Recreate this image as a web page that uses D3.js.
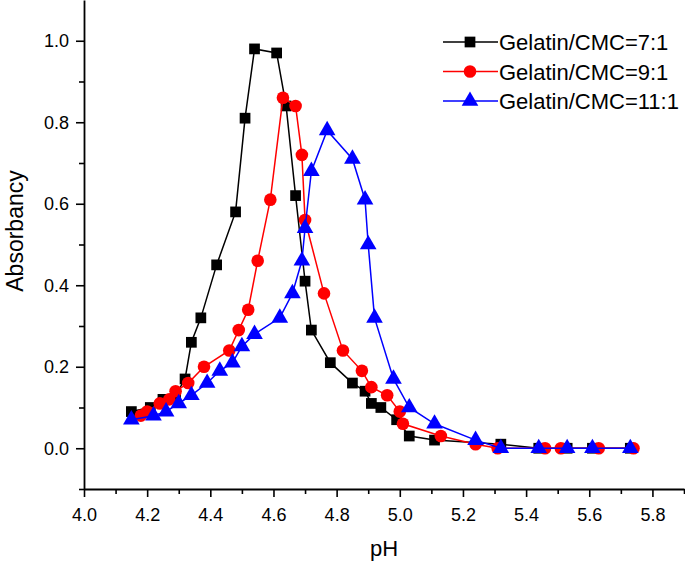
<!DOCTYPE html>
<html>
<head>
<meta charset="utf-8">
<script src="https://cdn.jsdelivr.net/npm/d3@7"></script>
<style>
  body { margin: 0; background: #fff; }
  svg text { font-family: "Liberation Sans", Arial, sans-serif; fill: #000; }
</style>
</head>
<body>
<svg id="svg" width="685" height="562"></svg>
<script>
// series 7:1 (black squares)
const ph71 = [4.15, 4.21, 4.25, 4.29, 4.32, 4.34, 4.37, 4.42, 4.48, 4.51, 4.54, 4.61, 4.64, 4.67, 4.70, 4.72, 4.78, 4.85, 4.89, 4.91, 4.94, 4.99, 5.03, 5.11, 5.32, 5.44, 5.53, 5.61, 5.73];
const abs71 = [0.09, 0.10, 0.12, 0.13, 0.17, 0.26, 0.32, 0.45, 0.58, 0.81, 0.98, 0.97, 0.84, 0.62, 0.41, 0.29, 0.21, 0.16, 0.14, 0.11, 0.10, 0.07, 0.03, 0.02, 0.01, 0, 0, 0, 0];
// series 9:1 (red circles)
const ph91 = [4.18, 4.20, 4.24, 4.27, 4.29, 4.33, 4.38, 4.46, 4.49, 4.52, 4.55, 4.59, 4.63, 4.67, 4.69, 4.70, 4.76, 4.82, 4.88, 4.91, 4.96, 5.00, 5.01, 5.13, 5.24, 5.31, 5.46, 5.51, 5.63, 5.74];
const abs91 = [0.08, 0.09, 0.11, 0.12, 0.14, 0.16, 0.20, 0.24, 0.29, 0.34, 0.46, 0.61, 0.86, 0.84, 0.72, 0.56, 0.38, 0.24, 0.19, 0.15, 0.13, 0.09, 0.06, 0.03, 0.01, 0, 0, 0, 0, 0];
// series 11:1 (blue triangles)
const ph111 = [4.15, 4.22, 4.26, 4.30, 4.34, 4.39, 4.43, 4.47, 4.50, 4.54, 4.62, 4.66, 4.69, 4.70, 4.72, 4.77, 4.85, 4.89, 4.90, 4.92, 4.98, 5.03, 5.11, 5.24, 5.32, 5.44, 5.53, 5.61, 5.73];
const abs111 = [0.07, 0.08, 0.09, 0.11, 0.13, 0.16, 0.19, 0.21, 0.25, 0.28, 0.32, 0.38, 0.46, 0.54, 0.68, 0.78, 0.71, 0.61, 0.50, 0.32, 0.17, 0.10, 0.06, 0.02, 0, 0, 0, 0, 0];

const seriesNames = ['Gelatin/CMC=7:1', 'Gelatin/CMC=9:1', 'Gelatin/CMC=11:1'];
const xTicks = [4.0, 4.2, 4.4, 4.6, 4.8, 5.0, 5.2, 5.4, 5.6, 5.8];
const yTicks = [0.0, 0.2, 0.4, 0.6, 0.8, 1.0];

const series = [
  { name: seriesNames[0], x: ph71, y: abs71, colour: '#000000', symbol: d3.symbolSquare, size: 115 },
  { name: seriesNames[1], x: ph91, y: abs91, colour: '#ff0000', symbol: d3.symbolCircle, size: 125 },
  { name: seriesNames[2], x: ph111, y: abs111, colour: '#0000ff', symbol: d3.symbolTriangle, size: 120 }
];

const svg = d3.select('#svg');
const plotLeft = 84, plotRight = 684, plotTop = 0, plotBottom = 489;

const xScale = d3.scaleLinear().domain([4.0, 5.9]).range([plotLeft, plotRight]);
const yScale = d3.scaleLinear().domain([-0.1, 1.1]).range([plotBottom, plotTop]);

// axes
const xAxis = d3.axisBottom(xScale).tickValues(xTicks).tickFormat(d3.format('.1f')).tickSize(8).tickPadding(11).tickSizeOuter(0);
const yAxis = d3.axisLeft(yScale).tickValues(yTicks).tickFormat(d3.format('.1f')).tickSize(8).tickPadding(7).tickSizeOuter(0);
const xMinor = d3.axisBottom(xScale).tickValues(d3.range(4.1, 5.9, 0.2)).tickFormat('').tickSize(5).tickSizeOuter(0);
const yMinor = d3.axisLeft(yScale).tickValues([-0.1, 0.1, 0.3, 0.5, 0.7, 0.9]).tickFormat('').tickSize(5).tickSizeOuter(0);

const xAxisG = svg.append('g').attr('transform', `translate(0,${plotBottom})`).call(xAxis);
svg.append('g').attr('transform', `translate(0,${plotBottom})`).call(xMinor).select('path.domain').remove();
const yAxisG = svg.append('g').attr('transform', `translate(${plotLeft},0)`).call(yAxis);
svg.append('g').attr('transform', `translate(${plotLeft},0)`).call(yMinor).select('path.domain').remove();

svg.selectAll('.domain').attr('stroke', '#000').attr('stroke-width', 1.8);
svg.selectAll('.tick line').attr('stroke', '#000').attr('stroke-width', 1.6);
xAxisG.selectAll('.tick text').style('font-size', '18px');
yAxisG.selectAll('.tick text').style('font-size', '18px');

svg.append('text').text('pH')
  .attr('x', 384).attr('y', 556)
  .attr('text-anchor', 'middle').style('font-size', '22px');
svg.append('text').text('Absorbancy')
  .attr('transform', 'translate(23,231) rotate(-90)')
  .attr('text-anchor', 'middle').style('font-size', '23px');

// lines and markers
const line = d3.line().x(d => xScale(d[0])).y(d => yScale(d[1]));
series.forEach(s => {
  const pts = s.x.map((v, i) => [v, s.y[i]]);
  svg.append('path').datum(pts)
    .attr('d', line)
    .attr('fill', 'none')
    .attr('stroke', s.colour)
    .attr('stroke-width', 1.5);
  svg.append('g').selectAll('path')
    .data(pts)
    .join('path')
    .attr('transform', d => `translate(${xScale(d[0])},${yScale(d[1])})`)
    .attr('d', d3.symbol().type(s.symbol).size(s.size))
    .attr('fill', s.colour);
});

// legend
const legend = svg.append('g').attr('transform', 'translate(443,42)');
series.forEach((s, i) => {
  const g = legend.append('g').attr('transform', `translate(0,${i * 29.5})`);
  g.append('line').attr('x1', 0).attr('x2', 55).attr('y1', 0).attr('y2', 0)
    .attr('stroke', s.colour).attr('stroke-width', 1.5);
  g.append('path').attr('transform', 'translate(27,0)')
    .attr('d', d3.symbol().type(s.symbol).size(s.size)).attr('fill', s.colour);
  g.append('text').text(s.name).attr('x', 56).attr('y', 8).style('font-size', '22px');
});
</script>
</body>
</html>
